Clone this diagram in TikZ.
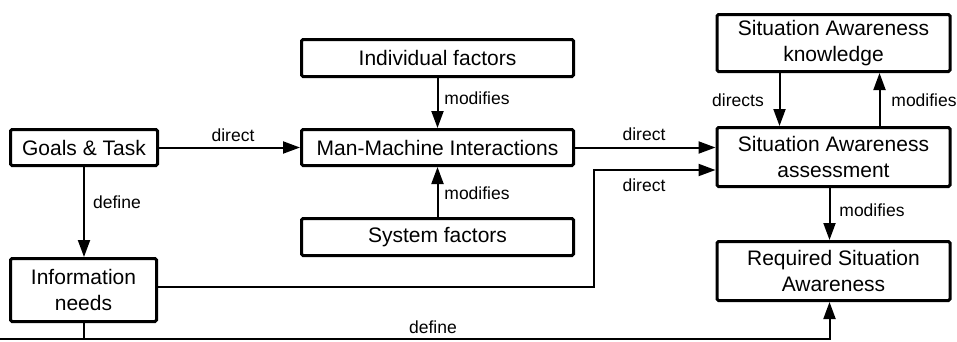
\documentclass[tikz,border=0pt]{standalone}
\usepackage{fontspec}
\setmainfont{Liberation Sans}
\usetikzlibrary{arrows.meta,calc}

\tikzset{
  box/.style={draw, line width=3pt, rounded corners=1.5pt, align=center,
    inner sep=0pt, font=\fontsize{21}{26}\selectfont},
  arr/.style={line width=2pt, -{Triangle[length=17pt,width=12pt]}},
  lbl/.style={inner sep=0pt, font=\fontsize{17.5}{20}\selectfont}
}

\begin{document}
\begin{tikzpicture}[x=1pt,y=-1pt]
\useasboundingbox (0,0) rectangle (957,341);

% left column
\node[box, minimum width=147pt, minimum height=36pt] (goals) at (84,147.5) {Goals \& Task};
\node[box, minimum width=146pt, minimum height=63pt] (info) at (83.5,290) {Information\\needs};

% middle column
\node[box, minimum width=272pt, minimum height=37pt] (ind) at (437.5,58) {Individual factors};
\node[box, minimum width=272pt, minimum height=36pt] (mmi) at (437.5,147.5) {Man-Machine Interactions};
\node[box, minimum width=272pt, minimum height=37pt] (sys) at (437.5,237) {System factors};

% right column
\node[box, minimum width=233pt, minimum height=57pt] (know) at (833.5,43) {Situation Awareness\\knowledge};
\node[box, minimum width=233pt, minimum height=59pt] (assess) at (833.5,157) {Situation Awareness\\assessment};
\node[box, minimum width=233pt, minimum height=59pt] (req) at (833.5,271) {Required Situation\\Awareness};

% helper points for routed connectors
\coordinate (riser) at (594,0);
\coordinate (floor) at (0,339);
\coordinate (inlet) at ($(assess.west)+(0,13)$);

% connectors
\draw[arr] (goals) -- (mmi);
\draw[arr] (goals.south) -- (goals.south |- info.north);
\draw[arr] (ind) -- (mmi);
\draw[arr] (sys) -- (mmi);
\draw[arr] (mmi.east) -- (mmi.east -| assess.west);
\draw[arr] ([yshift=3pt]info.east) -- ([yshift=3pt]info.east -| riser) |- (inlet);
\draw[arr] ([xshift=-54pt]know.south) -- ([xshift=-54pt]assess.north);
\draw[arr] ([xshift=46pt]assess.north) -- ([xshift=46pt]know.south);
\draw[arr] ([xshift=-4pt]assess.south) -- ([xshift=-4pt]req.north);
\draw[arr] (info.south) |- (floor) -| ([xshift=-4pt]req.south);

% connector labels
\node[lbl] (l1) at (233,135) {direct};
\node[lbl] (l2) at (117,202) {define};
\node[lbl] (l3) at (477,98) {modifies};
\node[lbl] (l4) at (477,193) {modifies};
\node[lbl] (l5) at (644,134) {direct};
\node[lbl] (l6) at (644,185) {direct};
\node[lbl] (l7) at (738,100) {directs};
\node[lbl] (l8) at (924,100) {modifies};
\node[lbl] (l9) at (872,210) {modifies};
\node[lbl] (l10) at (433,327) {define};
\end{tikzpicture}
\end{document}
